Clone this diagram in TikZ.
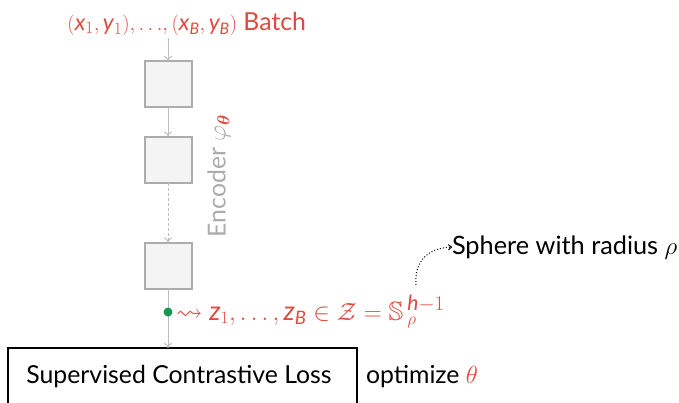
\documentclass[tikz,border=0pt]{standalone}
\usepackage{amsmath,amssymb}
\usepackage{fontspec}
\setmainfont{Lato}
\usetikzlibrary{arrows.meta}
\definecolor{accent}{RGB}{224,74,62}
\definecolor{encgray}{RGB}{172,172,172}
\definecolor{linegray}{RGB}{190,190,190}
\definecolor{boxfill}{RGB}{244,244,244}
\definecolor{dotgreen}{RGB}{22,150,80}
\newcommand\vi[1]{\textit{#1}}
\newcommand\fsz[1]{\fontsize{#1}{#1}\selectfont}
\begin{document}
\begin{tikzpicture}[x=1pt,y=-1pt,
  every node/.style={inner sep=0pt,outer sep=0pt},
  layer/.style={draw=encgray,fill=boxfill,line width=2pt,minimum width=47pt,minimum height=46pt},
  flow/.style={draw=linegray,line width=1pt,-{To[length=5pt,width=8pt]}},
  labeltext/.style={font=\fsz{24.8}}]
\useasboundingbox (0,0) rectangle (679,402);
\node[labeltext,text=accent,anchor=base east] (batch) at (306,30) {{\fsz{22.8}$(\vi{x}_1{,}\,\vi{y}_1){,}\,{\ldots}{,}\,(\vi{x}_{\vi{B}}{,}\,\vi{y}_{\vi{B}})$} Batch};
\coordinate (top) at (168,38);
\node[layer] (l1) at (168,84) {};
\node[layer] (l2) at (168,159.5) {};
\node[layer] (l3) at (168,265.5) {};
\coordinate (dot) at (168,312);
\node[draw=black,line width=1.5pt,minimum width=349pt,minimum height=80pt,anchor=north west] (loss) at (8,348) {};
\node[labeltext,anchor=base] (losstext) at (179,383) {Supervised Contrastive Loss};
\node[labeltext,anchor=base west] (opt) at (366,383) {optimize $\color{accent}\theta$};
\draw[flow] (top) -- (l1.north);
\draw[flow] (l1.south) -- (l2.north);
\draw[flow,dash pattern=on 3pt off 2pt] (l2.south) -- (l3.north);
\draw[draw=linegray,line width=1pt] (l3.south) -- (dot);
\draw[flow] (dot) -- (loss.north -| dot);
\fill[dotgreen] (dot) circle[radius=4.5pt];
\node[labeltext,text=encgray,rotate=90] (enc) at (219,176) {Encoder $\varphi_{\color{accent}\boldsymbol{\theta}}$};
\node[text=accent,anchor=base west,font=\fsz{26.5}] (emb) at (176,320) {$\rightsquigarrow \vi{z}_1,\ldots,\vi{z}_{\vi{B}}\in\mathcal{Z}=\mathbb{S}$\kern4pt\rlap{\raisebox{-4pt}{\fsz{19}$\rho$}}\raisebox{10pt}{\fsz{21}$\vi{h}{-}1$}};
\node[labeltext,anchor=base west,font=\fsz{25.3}] (sphere) at (452,254) {Sphere with radius $\rho$};
\coordinate (sfrom) at (416,285);
\draw[dotted,line width=1pt,-{To[length=4pt,width=6pt]}] (sfrom) .. controls (414,261) and (428,248) .. (sphere.west);
\end{tikzpicture}
\end{document}
